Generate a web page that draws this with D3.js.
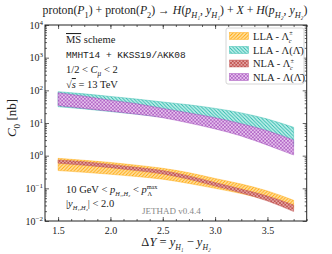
<!DOCTYPE html>
<html><head><meta charset="utf-8">
<script src="https://cdn.jsdelivr.net/npm/d3@7"></script>
<style>body{margin:0;background:#fff}svg{display:block}text{font-family:"Liberation Serif","DejaVu Serif",serif;fill:#222}</style>
</head><body>
<svg id="c" width="332" height="254"></svg>
<script>
// ---- data ----
const dY = [1.5,1.75,2.0,2.25,2.5,2.75,3.0,3.25,3.5,3.75];
const llaLcHi = [0.83,0.72,0.62,0.51,0.41,0.30,0.20,0.135,0.083,0.043];
const llaLcLo = [0.35,0.31,0.27,0.23,0.19,0.141,0.10,0.069,0.044,0.024];
const llaLHi  = [91,78,65,54,44,36,28,20.4,13.2,7.4];
const llaLLo  = [31.6,27,22.4,18.6,15.1,11.7,8.5,5.8,3.5,2.0];
const nlaLcHi = [0.74,0.65,0.54,0.44,0.35,0.24,0.15,0.095,0.058,0.031];
const nlaLcLo = [0.59,0.51,0.43,0.35,0.275,0.19,0.117,0.072,0.041,0.0195];
const nlaLHi  = [85,66,50,39,28,20.4,14.5,9.5,5.8,3.0];
const nlaLLo  = [34,28,23,18.6,14.5,10,6.6,4.0,2.1,1.05];
const xTicks = [1.5,2.0,2.5,3.0,3.5];
const yTickExp = [-2,-1,0,1,2,3,4];

const svg = d3.select("#c");
const L=45,R=306.7,T=25,B=221;
const x = d3.scaleLinear().domain([1.375,3.875]).range([L,R]);
const y = d3.scaleLog().domain([1e-2,1e4]).range([B,T]);

// patterns
const defs = svg.append("defs");
function hatch(id, bg, col, kind){
  const p = defs.append("pattern").attr("id",id).attr("patternUnits","userSpaceOnUse")
    .attr("width",3.5).attr("height",3.5);
  p.append("rect").attr("width",3.5).attr("height",3.5).attr("fill",bg);
  if(kind==="f"||kind==="x") p.append("path").attr("d","M-1,4.5L4.5,-1M-1,1L1,-1M2.5,4.5L4.5,2.5").attr("stroke",col).attr("stroke-width",0.9);
  if(kind==="b"||kind==="x") p.append("path").attr("d","M-1,-1L4.5,4.5M2.5,-1L4.5,1M-1,2.5L1,4.5").attr("stroke",col).attr("stroke-width",0.9);
  if(kind==="d"){ p.append("circle").attr("cx",0.9).attr("cy",0.9).attr("r",0.8).attr("fill",col);
                  p.append("circle").attr("cx",2.65).attr("cy",2.65).attr("r",0.8).attr("fill",col);}
}
hatch("pO","#ffe2a8","#ffa500","f");
hatch("pT","#c5f2ee","#2ab7a9","b");
hatch("pR","#f0c4c4","#c0504d","x");
hatch("pP","#e6c2ee","#9b3fb5","d");

const series = [
  {hi:llaLcHi, lo:llaLcLo, fill:"url(#pO)", edge:"#ffa500"},
  {hi:llaLHi,  lo:llaLLo,  fill:"url(#pT)", edge:"#2ab7a9"},
  {hi:nlaLcHi, lo:nlaLcLo, fill:"url(#pR)", edge:"#c0504d"},
  {hi:nlaLHi,  lo:nlaLLo,  fill:"url(#pP)", edge:"#9b3fb5"}
];
const area = d3.area().x((d,i)=>x(dY[i])).curve(d3.curveMonotoneX);
series.forEach(s=>{
  svg.append("path").datum(dY)
    .attr("d", area.y0((d,i)=>y(s.lo[i])).y1((d,i)=>y(s.hi[i])))
    .attr("fill", s.fill).attr("stroke", s.edge).attr("stroke-width",0.6).attr("stroke-opacity",0.7);
});

// axes
const minorY=[]; for(let e=-2;e<4;e++) for(let m=2;m<10;m++) minorY.push(m*Math.pow(10,e));
const minorX=[]; for(let v=1.375;v<=3.876;v+=0.125) minorX.push(v);
function ax(gen, tx, ty){ return svg.append("g").attr("transform",`translate(${tx},${ty})`).call(gen); }
ax(d3.axisLeft(y).tickValues(minorY).tickSize(-2).tickFormat(""),L,0);
ax(d3.axisRight(y).tickValues(minorY).tickSize(-2).tickFormat(""),R,0);
ax(d3.axisBottom(x).tickValues(minorX).tickSize(-2).tickFormat(""),0,B);
ax(d3.axisTop(x).tickValues(minorX).tickSize(-2).tickFormat(""),0,T);
ax(d3.axisLeft(y).tickValues(yTickExp.map(e=>Math.pow(10,e))).tickSize(-4).tickFormat(""),L,0);
ax(d3.axisRight(y).tickValues(yTickExp.map(e=>Math.pow(10,e))).tickSize(-4).tickFormat(""),R,0);
const gx = ax(d3.axisBottom(x).tickValues(xTicks).tickSize(-4).tickPadding(6).tickFormat(d3.format(".1f")),0,B);
ax(d3.axisTop(x).tickValues(xTicks).tickSize(-4).tickFormat(""),0,T);
svg.selectAll(".domain").remove();
svg.selectAll(".tick line").attr("stroke","#222").attr("stroke-width",0.7);
gx.selectAll("text").attr("font-size",10).attr("font-family","Liberation Serif").attr("fill","#222");
svg.append("rect").attr("x",L).attr("y",T).attr("width",R-L).attr("height",B-T).attr("fill","none").attr("stroke","#222").attr("stroke-width",1);

// y tick labels
yTickExp.forEach(e=>{
  const t = svg.append("text").attr("x",L-2).attr("y",y(Math.pow(10,e))+3.5).attr("text-anchor","end").attr("font-size",10);
  t.append("tspan").text("10");
  t.append("tspan").attr("dy",-4).attr("font-size",7).text(e<0?"\u2212"+(-e):String(e));
});

// helper for rich text
function rich(xp,yp,parts,size,anchor,extra){
  const t = svg.append("text").attr("x",xp).attr("y",yp).attr("font-size",size).attr("text-anchor",anchor||"start");
  if(extra) extra(t);
  let shift=0;
  parts.forEach(p=>{
    const s = t.append("tspan").text(p.t);
    let ds = (p.sub? size*0.3 : p.sup? -size*0.4 : 0);
    if(ds-shift!==0) s.attr("dy",ds-shift);
    shift=ds;
    if(p.dx) s.attr("dx",p.dx);
    if(p.sub||p.sup) s.attr("font-size",size*(p.small||0.7));
    if(p.i) s.attr("font-style","italic");
    if(p.mono) s.attr("font-family","Liberation Mono,DejaVu Sans Mono,monospace");
    if(p.over) s.attr("text-decoration","overline");
  });
  return t;
}
// title
rich(175,14,[{t:"proton("},{t:"P",i:1},{t:"1",sub:1},{t:") + proton("},{t:"P",i:1},{t:"2",sub:1},{t:") \u2192 "},
  {t:"H",i:1},{t:"(",},{t:"p",i:1},{t:"H\u2081",sub:1,i:1},{t:", "},{t:"y",i:1},{t:"H\u2081",sub:1,i:1},{t:") + "},{t:"X",i:1},{t:" + "},
  {t:"H",i:1},{t:"("},{t:"p",i:1},{t:"H\u2082",sub:1,i:1},{t:", "},{t:"y",i:1},{t:"H\u2082",sub:1,i:1},{t:")"}],11.8,"middle");
// axis labels
rich(176,246,[{t:"\u0394"},{t:"Y",i:1},{t:" = "},{t:"y",i:1},{t:"H\u2081",sub:1,i:1,small:0.62},{t:" \u2212 "},{t:"y",i:1},{t:"H\u2082",sub:1,i:1,small:0.62}],12.5,"middle");
rich(0,0,[{t:"C",i:1},{t:"0",sub:1},{t:" [nb]"}],13,"middle",t=>t.attr("transform","translate(16,118) rotate(-90)"));

// annotations
rich(66,43,[{t:"MS",over:1},{t:" scheme"}],10.5);
rich(66,57.5,[{t:"MMHT14 + KKSS19/AKK08",mono:1}],9.5);
rich(66,73,[{t:"1/2 < "},{t:"C",i:1},{t:"\u03bc",sub:1,i:1},{t:" < 2"}],10.5);
rich(66,88,[{t:"\u221a"},{t:"s",i:1,over:1},{t:" = 13 TeV"}],10.5);
rich(66,193,[{t:"10 GeV < "},{t:"p",i:1},{t:"H\u2081,H\u2082",sub:1,i:1,small:0.6},{t:" < "},{t:"p",i:1},{t:"max",sup:1,small:0.6},{t:"\u039b",sub:1,small:0.6,dx:-10}],10.5);
rich(66,207,[{t:"|"},{t:"y",i:1},{t:"H\u2081,H\u2082",sub:1,i:1,small:0.6},{t:"| < 2.0"}],10.5);
svg.append("text").attr("x",142).attr("y",214).attr("font-size",9).attr("font-family","Liberation Mono,monospace").style("fill","#888").text("JETHAD v0.4.4");

// legend
const lg = svg.append("g");
lg.append("rect").attr("x",226).attr("y",28).attr("width",78).attr("height",56).attr("rx",2)
  .attr("fill","#fff").attr("fill-opacity",0.85).attr("stroke","#ccc").attr("stroke-width",0.8);
const labels = [
  [{t:"LLA - \u039b"},{t:"\u00b1",sup:1,small:0.6},{t:"c",sub:1,i:1,small:0.6,dx:-3.8}],
  [{t:"LLA - \u039b("},{t:"\u039b\u0304"},{t:")"}],
  [{t:"NLA - \u039b"},{t:"\u00b1",sup:1,small:0.6},{t:"c",sub:1,i:1,small:0.6,dx:-3.8}],
  [{t:"NLA - \u039b("},{t:"\u039b\u0304"},{t:")"}]
];
const rowY = [36,50,63.5,77];
series.forEach((s,i)=>{
  lg.append("rect").attr("x",229.5).attr("y",rowY[i]-3.5).attr("width",19).attr("height",7)
    .attr("fill",s.fill).attr("stroke",s.edge).attr("stroke-width",0.6).attr("stroke-opacity",0.7);
  rich(253,rowY[i]+3.5,labels[i],10.5);
});
</script>
</body></html>
